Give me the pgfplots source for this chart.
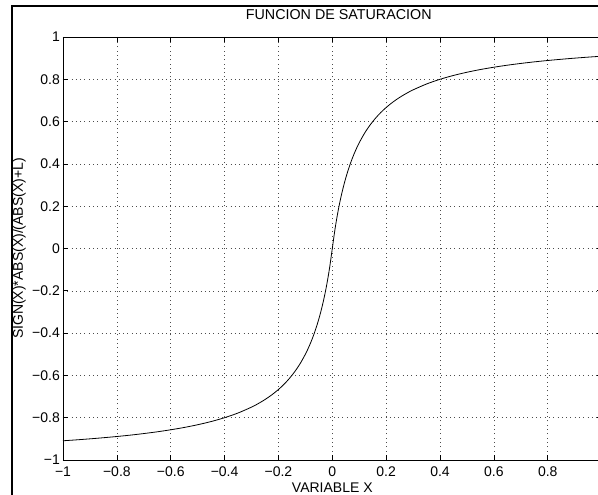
\documentclass[border=0pt]{standalone}
\usepackage{pgfplots}
\pgfplotsset{compat=1.18}
\usepackage{fontspec}
\setmainfont{Liberation Sans}

% Saturation function  y = sign(x)*|x|/(|x|+L), L = 0.1
\pgfplotstableread{
x y
-1.00 -0.9091
-0.95 -0.9048
-0.90 -0.9000
-0.85 -0.8947
-0.80 -0.8889
-0.75 -0.8824
-0.70 -0.8750
-0.65 -0.8667
-0.60 -0.8571
-0.55 -0.8462
-0.50 -0.8333
-0.45 -0.8182
-0.40 -0.8000
-0.35 -0.7778
-0.30 -0.7500
-0.275 -0.7333
-0.25 -0.7143
-0.225 -0.6923
-0.20 -0.6667
-0.18 -0.6429
-0.16 -0.6154
-0.14 -0.5833
-0.12 -0.5455
-0.10 -0.5000
-0.09 -0.4737
-0.08 -0.4444
-0.07 -0.4118
-0.06 -0.3750
-0.05 -0.3333
-0.04 -0.2857
-0.03 -0.2308
-0.02 -0.1667
-0.01 -0.0909
0.00 0.0000
0.01 0.0909
0.02 0.1667
0.03 0.2308
0.04 0.2857
0.05 0.3333
0.06 0.3750
0.07 0.4118
0.08 0.4444
0.09 0.4737
0.10 0.5000
0.12 0.5455
0.14 0.5833
0.16 0.6154
0.18 0.6429
0.20 0.6667
0.225 0.6923
0.25 0.7143
0.275 0.7333
0.30 0.7500
0.35 0.7778
0.40 0.8000
0.45 0.8182
0.50 0.8333
0.55 0.8462
0.60 0.8571
0.65 0.8667
0.70 0.8750
0.75 0.8824
0.80 0.8889
0.85 0.8947
0.90 0.9000
0.95 0.9048
1.00 0.9091
}\satdata

\begin{document}
\begin{tikzpicture}
\useasboundingbox (0,0) rectangle (598pt,495pt);
\clip (0,0) rectangle (598pt,495pt);
% figure frame
\draw[line width=2.5pt] (12pt,-20pt) -- (12pt,489pt) -- (640pt,489pt);
\begin{axis}[
  at={(63pt,35pt)}, anchor=south west,
  scale only axis,
  width=538.6pt, height=423pt,
  xmin=-1, xmax=1, ymin=-1, ymax=1,
  axis line style={line width=0.9pt},
  tick style={black, line width=0.6pt},
  major tick length=5pt,
  tick align=inside,
  xtick={-1,-0.8,-0.6,-0.4,-0.2,0,0.2,0.4,0.6,0.8},
  xticklabels={−1,−0.8,−0.6,−0.4,−0.2,0,0.2,0.4,0.6,0.8},
  ytick={-1,-0.8,-0.6,-0.4,-0.2,0,0.2,0.4,0.6,0.8,1},
  yticklabels={−1,−0.8,−0.6,−0.4,−0.2,0,0.2,0.4,0.6,0.8,1},
  tick label style={font=\fontsize{14}{16}\selectfont},
  xticklabel style={anchor=base, inner sep=0pt, yshift=-17pt},
  yticklabel style={anchor=east, inner sep=0pt, xshift=-3pt},
  grid=major,
  major grid style={line width=0.5pt, black!70, dash pattern=on 0.8pt off 3.5pt},
  title={FUNCION DE SATURACION},
  title style={font=\fontsize{14.3}{16}\selectfont, at={(axis description cs:0.512,1)}, anchor=base, inner sep=0pt, yshift=11pt},
  xlabel={VARIABLE X},
  xlabel style={font=\fontsize{14}{16}\selectfont, at={(axis description cs:0.5,0)}, anchor=base, inner sep=0pt, yshift=-33pt},
  ylabel={SIGN(X)*ABS(X)/(ABS(X)+L)},
  ylabel style={font=\fontsize{14}{16}\selectfont, at={(axis description cs:-0.0743,0.5)}, anchor=base, inner sep=0pt},
]
\addplot[black, line width=0.8pt, smooth] table[x=x, y=y] {\satdata};
\end{axis}
\end{tikzpicture}
\end{document}
